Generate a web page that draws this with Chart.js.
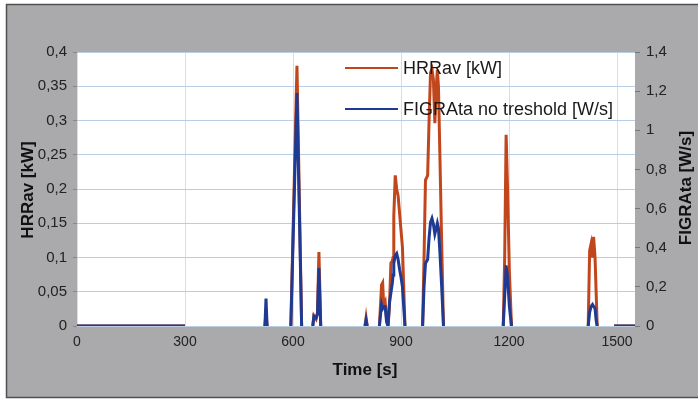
<!DOCTYPE html>
<html>
<head>
<meta charset="utf-8">
<script src="https://cdn.jsdelivr.net/npm/chart.js@4/dist/chart.umd.min.js"></script>
<style>
  html, body { margin: 0; padding: 0; background: #fff; }
  #wrap { width: 698px; height: 400px; }
</style>
</head>
<body>
<div id="wrap"><canvas id="fig"></canvas></div>
<script>
// time [s], null rows break the lines between events
const time  = [0, 300, 310, 522, 525, 528, 540, 594, 611, 624, 640, 655, 658, 664, 668, 672, 677, 690,
               800, 803, 806, 815,
               840, 846, 849, 852, 856, 860, 864, 868, 872, 876, 878, 880, 884, 888, 892, 896, 900, 904, 911, 930,
               960, 964, 968, 974, 978, 982, 986, 990, 994, 998, 1001, 1004, 1008, 1013, 1018, 1030,
               1184, 1188, 1192, 1196, 1201, 1207, 1220,
               1420, 1424, 1428, 1432, 1435, 1439, 1442, 1445, 1480,
               1492, 1550];
const hrrav = [0, 0, null, 0, 0.02, 0, null, 0, 0.38, 0, null, 0, 0.015, 0.01, 0.02, 0.108, 0, null,
               0, 0.012, 0, null,
               0, 0.06, 0.063, 0.03, 0.035, 0.01, 0, 0.03, 0.092, 0.095, 0.1, 0.16, 0.22, 0.2, 0.19, 0.165, 0.14, 0.115, 0, null,
               0, 0.1, 0.213, 0.22, 0.3, 0.37, 0.375, 0.36, 0.296, 0.35, 0.374, 0.35, 0.25, 0.12, 0, null,
               0, 0.1, 0.279, 0.2, 0.08, 0, null,
               0, 0.11, 0.12, 0.1, 0.13, 0.1, 0.05, 0, null,
               0, 0];
const figra = [0, 0, null, 0, 0.14, 0, null, 0, 1.19, 0, null, 0, 0.05, 0.04, 0.06, 0.296, 0, null,
               0, 0.03, 0, null,
               0, 0.11, 0.09, 0.1, 0.1, 0.02, 0, 0.12, 0.17, 0.22, 0.26, 0.32, 0.36, 0.37, 0.34, 0.29, 0.25, 0.2, 0, null,
               0, 0.2, 0.32, 0.34, 0.45, 0.53, 0.55, 0.52, 0.47, 0.5, 0.525, 0.5, 0.38, 0.2, 0, null,
               0, 0.15, 0.31, 0.25, 0.1, 0, null,
               0, 0.07, 0.1, 0.11, 0.1, 0.09, 0.03, 0, null,
               0, 0];
const xTicks = [0, 300, 600, 900, 1200, 1500];

const comma = v => String(Math.round(v * 100) / 100).replace('.', ',');

const frame = {
  id: 'frame',
  beforeDraw(chart) {
    const c = chart.ctx, a = chart.chartArea;
    c.save();
    c.fillStyle = '#aaa9ab';
    c.fillRect(6, 4, 692, 394);
    c.strokeStyle = '#505050';
    c.lineWidth = 1.5;
    c.beginPath();
    c.moveTo(698, 4.5); c.lineTo(6.5, 4.5); c.lineTo(6.5, 397.5); c.lineTo(698, 397.5);
    c.stroke();
    c.fillStyle = '#ffffff';
    c.fillRect(a.left, a.top, a.right - a.left, a.bottom - a.top);
    c.restore();
  },
  afterDraw(chart) {
    const c = chart.ctx;
    c.save();
    c.fillStyle = '#111';
    c.font = 'bold 17px "Liberation Sans", Arial, sans-serif';
    c.textAlign = 'center';
    c.textBaseline = 'middle';
    c.fillText('Time [s]', 365, 370);
    c.translate(28, 190); c.rotate(-Math.PI / 2);
    c.fillText('HRRav [kW]', 0, 0);
    c.restore();
    c.save();
    c.fillStyle = '#111';
    c.font = 'bold 17px "Liberation Sans", Arial, sans-serif';
    c.textAlign = 'center';
    c.textBaseline = 'middle';
    c.translate(686, 188); c.rotate(-Math.PI / 2);
    c.fillText('FIGRAta [W/s]', 0, 0);
    c.restore();
    // legend
    c.save();
    c.font = '18px "Liberation Sans", Arial, sans-serif';
    c.textBaseline = 'middle';
    c.lineWidth = 2;
    const ds = chart.data.datasets;
    [[ds[0], 68], [ds[1], 109]].forEach(([d, y]) => {
      c.strokeStyle = d.borderColor;
      c.beginPath(); c.moveTo(345, y); c.lineTo(398, y); c.stroke();
      c.fillStyle = '#1a1a1a';
      c.fillText(d.label, 403, y + 1);
    });
    c.restore();
  }
};

new Chart(document.getElementById('fig'), {
  type: 'line',
  data: {
    labels: time,
    datasets: [
      {
        label: 'HRRav [kW]',
        data: hrrav,
        yAxisID: 'y',
        borderColor: '#c2461c',
        borderWidth: 3,
        pointRadius: 0,
        tension: 0,
        spanGaps: false,
        order: 2
      },
      {
        label: 'FIGRAta no treshold [W/s]',
        data: figra,
        yAxisID: 'y1',
        borderColor: '#1f3a92',
        borderWidth: 3,
        pointRadius: 0,
        tension: 0,
        spanGaps: false,
        order: 1
      }
    ]
  },
  options: {
    responsive: true,
    maintainAspectRatio: false,
    animation: false,
    layout: { padding: { top: 52, left: 0, right: 0, bottom: 0 } },
    plugins: { legend: { display: false }, tooltip: { enabled: false } },
    scales: {
      x: {
        type: 'linear',
        min: 0, max: 1550,
        afterFit: s => { s.height = 74; },
        afterBuildTicks: s => { s.ticks = xTicks.map(v => ({ value: v })); },
        grid: { color: '#dcdcdc', drawTicks: false, lineWidth: 1 },
        border: { display: false },
        ticks: { padding: 8, color: '#222', font: { size: 14, family: '"Liberation Sans", Arial' }, maxRotation: 0, callback: v => String(v) }
      },
      y: {
        position: 'left',
        min: 0, max: 0.4,
        afterFit: s => { s.width = 77; },
        grid: { color: '#b9cee2', tickLength: 4, tickColor: '#888' },
        border: { display: false },
        ticks: { stepSize: 0.05, padding: 6, color: '#222', font: { size: 15, family: '"Liberation Sans", Arial' }, callback: v => comma(v) }
      },
      y1: {
        position: 'right',
        min: 0, max: 1.4,
        afterFit: s => { s.width = 63; },
        grid: { drawOnChartArea: false, tickLength: 5, tickColor: '#777' },
        border: { display: false },
        ticks: { stepSize: 0.2, padding: 6, color: '#222', font: { size: 15, family: '"Liberation Sans", Arial' }, callback: v => comma(v) }
      }
    }
  },
  plugins: [frame]
});
</script>
</body>
</html>
